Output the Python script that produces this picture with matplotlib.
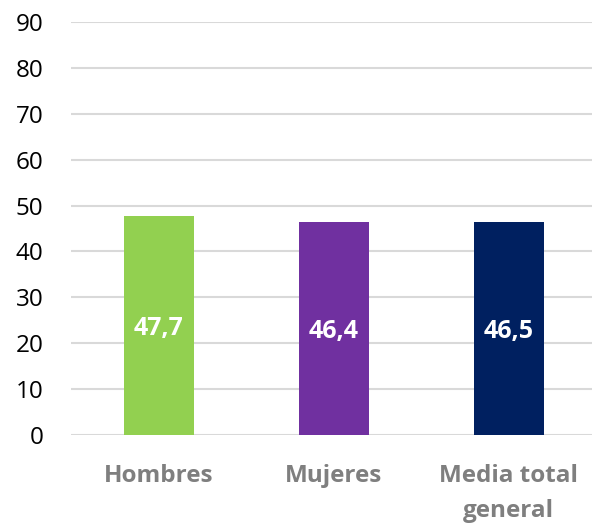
import matplotlib
matplotlib.use("Agg")
import matplotlib.pyplot as plt

# Data
categories = ["Hombres", "Mujeres", "Media total\ngeneral"]
values = [47.7, 46.4, 46.5]
labels = ["47,7", "46,4", "46,5"]
colors = ["#92D050", "#7030A0", "#002060"]

plt.rcParams['font.family'] = ['Open Sans', 'DejaVu Sans']

fig = plt.figure(figsize=(5.92, 5.23), dpi=100)
ax = fig.add_axes([71 / 592, 88 / 523, 525 / 592, 413 / 523])

x = range(len(categories))
bars = ax.bar(x, values, width=0.4, color=colors, zorder=3)

for b, lab in zip(bars, labels):
    ax.text(b.get_x() + b.get_width() / 2, b.get_height() / 2 - 0.6, lab,
            ha='center', va='center', color='white', fontsize=18,
            fontweight='bold', zorder=4)

ax.set_xlim(-0.5, 2.5)
ax.set_ylim(0, 90)
ax.set_yticks(range(0, 91, 10))
ax.set_xticks(list(x))
ax.set_xticklabels(categories, color='#7F7F7F', fontsize=17.5,
                   fontweight='bold', linespacing=1.6)
ax.tick_params(axis='y', length=0, pad=20, labelsize=17.5, labelcolor='black')
ax.tick_params(axis='x', length=0, pad=21)

ax.grid(axis='y', color='#D9D9D9', linewidth=1.5, zorder=0)
for s in ax.spines.values():
    s.set_visible(False)

fig.savefig("out.png", dpi=100)
